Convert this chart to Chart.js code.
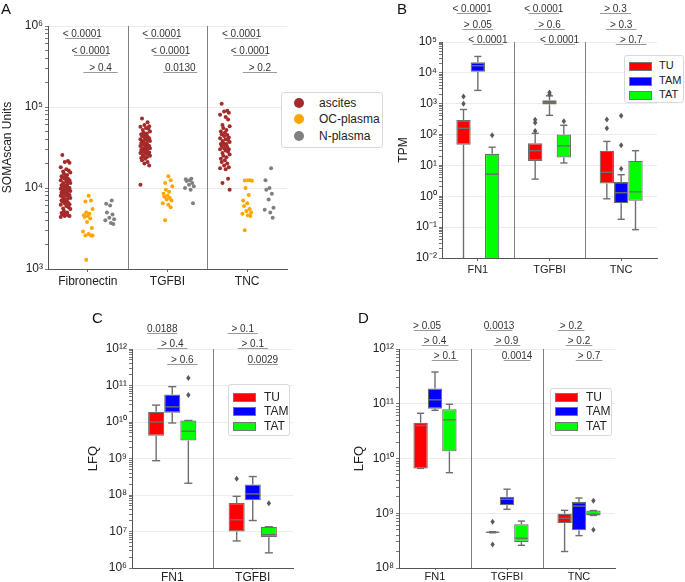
<!DOCTYPE html>
<html>
<head>
<meta charset="utf-8">
<script src="https://cdn.jsdelivr.net/npm/chart.js@4.4.1/dist/chart.umd.min.js"></script>
<style>
  body { margin: 0; width: 685px; height: 582px; overflow: hidden; background: #fff; position: relative;
         font-family: "Liberation Sans", Arial, sans-serif; }
  canvas { position: absolute; }
  .tag { position: absolute; font-size: 15px; line-height: 15px; color: #111; }
  .legend { position: absolute; border: 1px solid #d9d9d9; border-radius: 3px; background: #fff; color: #222; }
  .legend .item { position: absolute; white-space: nowrap; }
  .legend .mark { position: absolute; }
</style>
</head>
<body>
<canvas id="chartA" width="345" height="290" style="left:0;top:0"></canvas>
<canvas id="chartB" width="340" height="290" style="left:345px;top:0"></canvas>
<canvas id="chartC" width="345" height="300" style="left:0;top:290px"></canvas>
<canvas id="chartD" width="340" height="300" style="left:345px;top:290px"></canvas>
<div class="tag" style="left:1px;top:1px">A</div>
<div class="tag" style="left:397px;top:1px">B</div>
<div class="tag" style="left:92px;top:310px">C</div>
<div class="tag" style="left:358px;top:310px">D</div>
<script>
Chart.defaults.font.family = "'Liberation Sans', Arial, sans-serif";
Chart.defaults.color = "#222";

// ---- panel A: SOMAscan strip plot ----
const genesA = ["Fibronectin", "TGFBI", "TNC"];
const groupsA = ["ascites", "OC-plasma", "N-plasma"];
const colorsA = ["#a52a2a", "#ffa500", "#808080"];

const ascFN = [25500, 21500, 21000, 20500, 18000, 17000, 16500, 16000, 15500, 15000, 14500, 14000, 14000,
  13500, 13000, 13000, 12500, 12500, 12000, 12000, 11500, 11500, 11000, 11000, 10800, 10500, 10500, 10200,
  10000, 10000, 9800, 9600, 9500, 9400, 9200, 9000, 9000, 8800, 8700, 8500, 8400, 8300, 8200, 8000, 8000,
  7800, 7600, 7500, 7400, 7200, 7000, 7000, 6800, 6600, 6500, 6300, 6200, 6000, 5800, 5600, 5500, 5200,
  5000, 4900, 4800, 4700, 4600, 4500, 4500, 4400];
const ascTGFBI = [72000, 65000, 60000, 58000, 57000, 55000, 54000, 52000, 50000, 48000, 47000, 46000, 45000,
  44000, 43000, 42000, 41000, 40000, 40000, 39000, 38000, 38000, 37000, 36000, 36000, 35000, 35000, 34000,
  34000, 33000, 33000, 32000, 32000, 31000, 31000, 30000, 30000, 29500, 29000, 28500, 28000, 28000, 27500,
  27000, 26500, 26000, 25500, 25000, 24500, 24000, 23500, 23000, 22000, 21000, 20000, 19000, 11000];
const ascTNC = [110000, 90000, 88000, 85000, 80000, 75000, 70000, 60000, 58000, 55000, 52000, 50000, 48000,
  46000, 45000, 44000, 42000, 41000, 40000, 39000, 38000, 37000, 36000, 35000, 35000, 34000, 33000, 32000,
  31000, 30000, 30000, 29000, 28000, 27000, 26000, 25000, 24000, 23000, 22000, 21000, 20000, 19000, 18000,
  17500, 17000, 13000, 11500, 9500];
const ocFN = [8000, 7000, 6800, 5500, 5000, 4800, 4600, 4500, 4400, 4200, 3800, 3200, 2900, 2700, 2600, 2600, 2600, 1300];
const ocTGFBI = [14000, 12500, 11500, 10500, 9500, 9000, 8500, 8000, 7800, 7500, 7200, 7000, 6500, 6200, 5800, 4000];
const ocTNC = [12500, 12500, 12400, 12300, 10000, 8200, 7000, 6500, 6000, 5500, 5200, 5000, 4800, 4600, 4500, 3000];
const nFN = [7000, 6400, 6100, 5000, 4700, 4300, 4100, 4000, 3700, 3600];
const nTGFBI = [13000, 12800, 12500, 12200, 11500, 11000, 10500, 10000, 9500, 6500];
const nTNC = [17500, 12500, 10000, 9500, 8500, 7200, 5700, 5400, 5000, 4300];
const pvalsA = [["< 0.0001", "< 0.0001", "> 0.4"], ["< 0.0001", "< 0.0001", "0.0130"], ["< 0.0001", "< 0.0001", "> 0.2"]];

// ---- panel B: TPM box plots ----  rows: [low whisker, q1, median, q3, high whisker]
const genesB = ["FN1", "TGFBI", "TNC"];
const bTU = [[0.001, 47, 160, 295, 650], [3.6, 14, 30, 52, 110], [0.83, 2.6, 6, 30, 60]];
const bTUOut = [[1000, 1700], [130, 240, 300], [160, 310]];
const bTAM = [[2700, 10800, 17000, 22000, 34000], [420, 950, 1100, 1300, 1800], [0.18, 0.6, 1.3, 2.9, 5]];
const bTAMOut = [[], [2000, 2300], [7.8, 45, 410]];
const bTAT = [[0.001, 0.001, 5.2, 24, 39], [12, 18, 43, 100, 200], [0.083, 0.72, 1.4, 14, 30]];
const bTATOut = [[95], [270], []];
const pvalsB = [["< 0.0001", "> 0.05", "< 0.0001"], ["< 0.0001", "> 0.6", "< 0.0001"], ["> 0.3", "> 0.3", "> 0.7"]];

// ---- panel C: LFQ box plots ----
const genesC = ["FN1", "TGFBI"];
const cTU = [[8.7e8, 4.2e9, 1.0e10, 1.9e10, 2.9e10], [5.5e6, 1.0e7, 2.1e7, 6e7, 9.2e7]];
const cTUOut = [[], [2.8e8]];
const cTAM = [[9.4e9, 1.8e10, 2.6e10, 5.7e10, 9.3e10], [2e7, 7.2e7, 1.07e8, 1.95e8, 3.2e8]];
const cTAMOut = [[], []];
const cTAT = [[2.1e8, 3.1e9, 5.6e9, 1.1e10, 1.1e10], [2.6e6, 7e6, 8.2e6, 1.35e7, 1.35e7]];
const cTATOut = [[5.5e10, 1.6e11], [5.9e7]];
const pvalsC = [["0.0188", "> 0.4", "> 0.6"], ["> 0.1", "> 0.1", "0.0029"]];

// ---- panel D: LFQ box plots ----
const genesD = ["FN1", "TGFBI", "TNC"];
const dTU = [[6.6e9, 6.6e9, 4e10, 4.5e10, 6.7e10], [4.4e8, 4.4e8, 4.5e8, 4.6e8, 4.6e8], [2e8, 6.6e8, 8.1e8, 9.8e8, 1.13e9]];
const dTUOut = [[], [2.7e8, 7e8], []];
const dTAM = [[7.6e10, 8.1e10, 1.18e11, 1.9e11, 3.8e11], [1.18e9, 1.4e9, 1.8e9, 2e9, 2.75e9], [3.9e8, 4.9e8, 1.35e9, 1.6e9, 1.9e9]];
const dTAMOut = [[], [], []];
const dTAT = [[5.5e9, 1.35e10, 5.1e10, 7.9e10, 9.8e10], [2.6e8, 3.0e8, 3.5e8, 6.3e8, 7.2e8], [9.1e8, 9.1e8, 9.6e8, 1.12e9, 1.12e9]];
const dTATOut = [[], [], [5e8, 1.7e9]];
const pvalsD = [["> 0.05", "> 0.4", "> 0.1"], ["0.0013", "> 0.9", "0.0014"], ["> 0.2", "> 0.2", "> 0.7"]];

const boxGroups = ["TU", "TAM", "TAT"];
const boxColors = ["#ff0000", "#0000ff", "#00ff00"];

// small fixed horizontal spread for the strip plot
const jitter = [-0.04, 0.03, -0.01, 0.05, -0.06, 0.01, 0.04, -0.03, 0.06, -0.02, 0.02, -0.05, 0.0];

const supDigits = { "-": "\u207b", "0": "\u2070", "1": "\u00b9", "2": "\u00b2", "3": "\u00b3", "4": "\u2074",
  "5": "\u2075", "6": "\u2076", "7": "\u2077", "8": "\u2078", "9": "\u2079" };
function isDecade(v) {
  const e = Math.log10(v);
  return Math.abs(e - Math.round(e)) < 1e-6;
}
function decadeLabel(v) {
  if (!isDecade(v)) return "";
  return "10" + String(Math.round(Math.log10(v))).split("").map((c) => supDigits[c]).join("");
}

function logAxis(min, max, title, width, titleSize) {
  return {
    type: "logarithmic",
    min: min,
    max: max,
    title: { display: true, text: title, font: { size: titleSize }, padding: 0 },
    afterBuildTicks: (scale) => {
      const ticks = [];
      for (let e = Math.round(Math.log10(min)); e <= Math.round(Math.log10(max)); e++) {
        for (let k = 1; k <= 9; k++) {
          const v = k * Math.pow(10, e);
          if (v > max * 1.0001) break;
          ticks.push({ value: v });
        }
      }
      scale.ticks = ticks;
    },
    afterFit: (scale) => { scale.width = width; },
    ticks: { autoSkip: false, callback: (v) => decadeLabel(v), font: { size: 12 }, padding: 2 },
    grid: {
      color: (ctx) => (ctx.tick && isDecade(ctx.tick.value) ? "#ececec" : "rgba(0,0,0,0)"),
      tickColor: "#777",
      tickLength: 3,
    },
    border: { color: "#555" },
  };
}

function catAxis(height, size, pad, tickLen) {
  return {
    afterFit: (scale) => { scale.height = height; },
    grid: { display: true, drawOnChartArea: false, offset: false, tickLength: tickLen, tickColor: "#666" },
    border: { color: "#555" },
    ticks: { font: { size: size }, padding: pad },
  };
}

// category dividers and p-value bars
function decor(n, rowY, offsets, width) {
  return {
    id: "decor",
    beforeDatasetsDraw(chart) {
      const { ctx, chartArea: a } = chart;
      const x = chart.scales.x;
      ctx.save();
      ctx.strokeStyle = "#808080";
      ctx.lineWidth = 1;
      for (let i = 0; i < n - 1; i++) {
        const px = Math.round((x.getPixelForValue(i) + x.getPixelForValue(i + 1)) / 2) + 0.5;
        ctx.beginPath();
        ctx.moveTo(px, a.top);
        ctx.lineTo(px, a.bottom);
        ctx.stroke();
      }
      ctx.restore();
    },
    afterDraw(chart) {
      const labels = chart.config.options.pvals;
      const ctx = chart.ctx;
      const x = chart.scales.x;
      const cw = Math.abs(x.getPixelForValue(1) - x.getPixelForValue(0));
      ctx.save();
      ctx.font = "10px 'Liberation Sans', Arial, sans-serif";
      ctx.textAlign = "center";
      labels.forEach((rows, i) => {
        rows.forEach((txt, r) => {
          const cx = x.getPixelForValue(i) + offsets[r] * cw;
          const half = (width * cw) / 2;
          const y = rowY[r] + 0.5;
          ctx.strokeStyle = "#9a9a9a";
          ctx.lineWidth = 1;
          ctx.beginPath();
          ctx.moveTo(cx - half, y);
          ctx.lineTo(cx + half, y);
          ctx.stroke();
          ctx.fillStyle = "#333";
          ctx.fillText(txt, cx, y - 2);
        });
      });
      ctx.restore();
    },
  };
}

// whiskers, medians and outliers on top of the floating bars
const boxWhiskers = {
  id: "boxWhiskers",
  afterDatasetsDraw(chart) {
    const { ctx, chartArea: a } = chart;
    const y = chart.scales.y;
    const line = (x1, y1, x2, y2) => {
      ctx.beginPath();
      ctx.moveTo(x1, y1);
      ctx.lineTo(x2, y2);
      ctx.stroke();
    };
    ctx.save();
    ctx.beginPath();
    ctx.rect(a.left, a.top, a.right - a.left, a.bottom - a.top);
    ctx.clip();
    ctx.strokeStyle = "#6e6e6e";
    ctx.fillStyle = "#5a5a5a";
    ctx.lineWidth = 1.4;
    chart.data.datasets.forEach((ds, di) => {
      chart.getDatasetMeta(di).data.forEach((bar, j) => {
        const [lo, q1, med, q3, hi] = ds.stats[j];
        const xc = bar.x;
        const w = bar.width;
        const pHi = y.getPixelForValue(hi), pLo = y.getPixelForValue(lo);
        line(xc, y.getPixelForValue(q3), xc, pHi);
        line(xc, y.getPixelForValue(q1), xc, pLo);
        line(xc - w / 4, pHi, xc + w / 4, pHi);
        line(xc - w / 4, pLo, xc + w / 4, pLo);
        const pMed = y.getPixelForValue(med);
        line(xc - w / 2 + 1, pMed, xc + w / 2 - 1, pMed);
        ds.outliers[j].forEach((v) => {
          const py = y.getPixelForValue(v);
          ctx.beginPath();
          ctx.moveTo(xc, py - 3);
          ctx.lineTo(xc + 2.2, py);
          ctx.lineTo(xc, py + 3);
          ctx.lineTo(xc - 2.2, py);
          ctx.closePath();
          ctx.fill();
        });
      });
    });
    ctx.restore();
  },
};

// ---- panel A chart ----
const offsetsA = [-0.28, 0, 0.28];
const seriesA = [[ascFN, ascTGFBI, ascTNC], [ocFN, ocTGFBI, ocTNC], [nFN, nTGFBI, nTNC]];
new Chart(document.getElementById("chartA"), {
  type: "scatter",
  data: {
    datasets: groupsA.map((name, g) => ({
      label: name,
      data: seriesA[g].flatMap((vals, gi) =>
        vals.map((v, k) => ({ x: gi + offsetsA[g] + jitter[(k + g * 5) % jitter.length], y: v }))),
      backgroundColor: colorsA[g],
      borderWidth: 0,
      pointRadius: 2,
    })),
  },
  options: {
    responsive: false,
    animation: false,
    pvals: pvalsA,
    layout: { padding: { top: 26, right: 58, left: 0, bottom: 0 } },
    scales: {
      x: {
        type: "linear",
        min: -0.5,
        max: 2.5,
        afterBuildTicks: (scale) => { scale.ticks = genesA.map((_, i) => ({ value: i })); },
        afterFit: (scale) => { scale.height = 21; },
        ticks: { callback: (v) => genesA[v], font: { size: 12 }, padding: 2 },
        grid: { display: true, drawOnChartArea: false, tickLength: 3, tickColor: "#666" },
        border: { color: "#555" },
      },
      y: logAxis(1e3, 1e6, "SOMAscan Units", 48, 12),
    },
    plugins: { legend: { display: false }, tooltip: { enabled: false } },
  },
  plugins: [decor(3, [38, 55, 72], [-0.07, 0.04, 0.16], 0.43)],
});

function boxDatasets(stats, outs) {
  return boxGroups.map((name, g) => ({
    label: name,
    data: stats[g].map((s) => [s[1], s[3]]),
    stats: stats[g],
    outliers: outs[g],
    backgroundColor: boxColors[g],
    borderColor: "#6e6e6e",
    borderWidth: 1.2,
    borderSkipped: false,
    categoryPercentage: 0.6,
    barPercentage: 1,
  }));
}

function boxChart(id, labels, stats, outs, pvals, pad, yAxis, xAxis, rowY, offsets, width) {
  new Chart(document.getElementById(id), {
    type: "bar",
    data: { labels: labels, datasets: boxDatasets(stats, outs) },
    options: {
      responsive: false,
      animation: false,
      pvals: pvals,
      layout: { padding: pad },
      scales: { x: xAxis, y: yAxis },
      plugins: { legend: { display: false }, tooltip: { enabled: false } },
    },
    plugins: [decor(labels.length, rowY, offsets, width), boxWhiskers],
  });
}

boxChart("chartB", genesB, [bTU, bTAM, bTAT], [bTUOut, bTAMOut, bTATOut], pvalsB,
  { top: 42, right: 28, left: 51, bottom: 0 }, logAxis(1e-2, 1e5, "TPM", 46, 12), catAxis(32, 11, 2, 3),
  [13, 29, 44], [-0.08, 0, 0.14], 0.43);
boxChart("chartC", genesC, [cTU, cTAM, cTAT], [cTUOut, cTAMOut, cTATOut], pvalsC,
  { top: 59, right: 52, left: 86, bottom: 0 }, logAxis(1e6, 1e12, "LFQ", 46, 13), catAxis(22, 12, 0, 2),
  [43, 58, 74], [-0.125, 0, 0.125], 0.375);
boxChart("chartD", genesD, [dTU, dTAM, dTAT], [dTUOut, dTAMOut, dTATOut], pvalsD,
  { top: 59, right: 70, left: 7, bottom: 0 }, logAxis(1e8, 1e12, "LFQ", 47, 13), catAxis(22, 11, 0, 2),
  [40, 55, 70], [-0.11, 0, 0.14], 0.37);

// ---- HTML legends ----
function legend(left, top, w, h, names, colors, rowsY, markX, textX, size, round) {
  const box = document.createElement("div");
  box.className = "legend";
  Object.assign(box.style, { left: left + "px", top: top + "px", width: w + "px", height: h + "px", fontSize: size + "px" });
  names.forEach((name, i) => {
    const m = document.createElement("div");
    m.className = "mark";
    if (round) {
      Object.assign(m.style, { left: markX - 5 + "px", top: rowsY[i] - 5 + "px", width: "10px", height: "10px",
        borderRadius: "50%", background: colors[i] });
    } else {
      Object.assign(m.style, { left: markX + "px", top: rowsY[i] - 4 + "px", width: "21px", height: "7px",
        background: colors[i], border: "1px solid #777" });
    }
    const t = document.createElement("div");
    t.className = "item";
    t.textContent = name;
    Object.assign(t.style, { left: textX + "px", top: rowsY[i] - size * 0.6 + "px" });
    box.appendChild(m);
    box.appendChild(t);
  });
  document.body.appendChild(box);
}
legend(281, 92, 100, 54, groupsA, colorsA, [10, 26, 43], 17, 37, 12, true);
legend(624, 55, 58, 46, boxGroups, boxColors, [10, 25, 39], 4, 34, 11, false);
legend(228, 384, 60, 50, boxGroups, boxColors, [12, 26, 41], 4, 35, 12, false);
legend(550, 388, 60, 46, boxGroups, boxColors, [8, 22, 37], 4, 35, 12, false);
</script>
</body>
</html>
